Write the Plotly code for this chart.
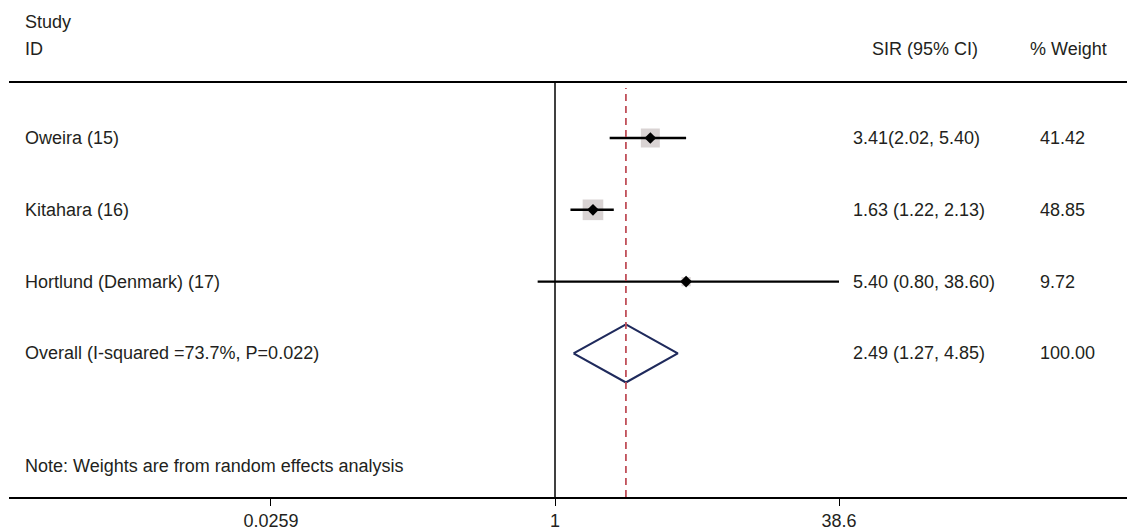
import plotly.graph_objects as go
import math

studies = ["Oweira (15)", "Kitahara (16)", "Hortlund (Denmark) (17)"]
sir = [3.41, 1.63, 5.40]
ci_low = [2.02, 1.22, 0.80]
ci_high = [5.40, 2.13, 38.60]
weights = [41.42, 48.85, 9.72]
est_text = ["3.41(2.02, 5.40)", "1.63 (1.22, 2.13)", "5.40 (0.80, 38.60)"]
weight_text = ["41.42", "48.85", "9.72"]

overall_label = "Overall (I-squared =73.7%, P=0.022)"
overall_est = 2.49
overall_low = 1.27
overall_high = 4.85
overall_text = "2.49 (1.27, 4.85)"
overall_weight = "100.00"

note = "Note: Weights are from random effects analysis"
tick_vals = [0.0259, 1, 38.6]
tick_text = ["0.0259", "1", "38.6"]

# page has an 8px body margin; compensate so the figure fills the window
OFF = 8
W, H = 1135 - OFF, 532 - OFF
ML, MR, MT, MB = 9 - OFF, 0, 83 - OFF, 35
PW = W - ML - MR
PH = H - MT - MB
FONT = "Liberation Sans, Arial, Helvetica, sans-serif"
TXT = "#231f20"
FS = 18

rows = list(range(len(studies)))
overall_row = len(studies)
note_row = 4.57

def px_to_paper_x(px):
    return (px - OFF - ML) / PW

def px_to_paper_y(py):
    return (H - MB - (py - OFF)) / PH

fig = go.Figure()

# weight boxes
fig.add_trace(go.Scatter(x=sir, y=rows, mode="markers",
                         marker=dict(symbol="square", color="#c9c0c0",
                                     size=[2.95 * math.sqrt(w) for w in weights],
                                     line=dict(width=0)),
                         hoverinfo="skip", showlegend=False))

# CI lines
for i in rows:
    fig.add_trace(go.Scatter(x=[ci_low[i], ci_high[i]], y=[i, i], mode="lines",
                             line=dict(color="black", width=2.4), hoverinfo="skip",
                             showlegend=False))

# point estimates
fig.add_trace(go.Scatter(x=sir, y=rows, mode="markers",
                         marker=dict(symbol="diamond", color="black", size=9,
                                     line=dict(width=0)),
                         hoverinfo="skip", showlegend=False))

# overall diamond
dh = 0.404
fig.add_trace(go.Scatter(
    x=[overall_low, overall_est, overall_high, overall_est, overall_low],
    y=[overall_row, overall_row - dh, overall_row, overall_row + dh, overall_row],
    mode="lines", line=dict(color="#1f2a5c", width=2.2), hoverinfo="skip",
    showlegend=False))

# reference lines
fig.add_shape(type="line", xref="x", yref="paper", x0=1, x1=1, y0=0, y1=1,
              line=dict(color="black", width=1.5))
fig.add_shape(type="line", xref="x", yref="paper", x0=overall_est, x1=overall_est,
              y0=0, y1=px_to_paper_y(88),
              line=dict(color="#c0505a", width=1.8, dash="7px,5px"))

ann = []
def add_text(text, x, y, yref="y"):
    ann.append(dict(text=text, x=x, y=y, xref="paper", yref=yref, showarrow=False,
                    xanchor="left", yanchor="middle",
                    font=dict(family=FONT, size=FS, color=TXT)))

# headers
add_text("Study", px_to_paper_x(23), px_to_paper_y(22), "paper")
add_text("ID", px_to_paper_x(23), px_to_paper_y(49), "paper")
add_text("SIR (95% CI)", px_to_paper_x(870), px_to_paper_y(49), "paper")
add_text("% Weight", px_to_paper_x(1028), px_to_paper_y(49), "paper")

for i in rows:
    add_text(studies[i], px_to_paper_x(23), i)
    add_text(est_text[i], px_to_paper_x(851), i)
    add_text(weight_text[i], px_to_paper_x(1038), i)

add_text(overall_label, px_to_paper_x(23), overall_row)
add_text(overall_text, px_to_paper_x(851), overall_row)
add_text(overall_weight, px_to_paper_x(1038), overall_row)
add_text(note, px_to_paper_x(23), note_row)

ppd = 179.0
fig.update_layout(
    width=W, height=H, margin=dict(l=ML, r=MR, t=MT, b=MB),
    paper_bgcolor="white", plot_bgcolor="white",
    annotations=ann,
    xaxis=dict(type="log", range=[(9 - 555) / ppd, (1135 - 555) / ppd],
               tickvals=tick_vals, ticktext=tick_text, ticks="outside", ticklen=7,
               tickwidth=1.2, tickcolor="black", showline=True, linecolor="black",
               linewidth=1.5, mirror=True, showgrid=False, zeroline=False,
               tickfont=dict(family=FONT, size=FS, color=TXT)),
    yaxis=dict(range=[(497 - 138) / 71.8, (83 - 138) / 71.8], visible=False,
               showgrid=False, zeroline=False),
    hovermode=False,
)

fig.write_html("out.html")
